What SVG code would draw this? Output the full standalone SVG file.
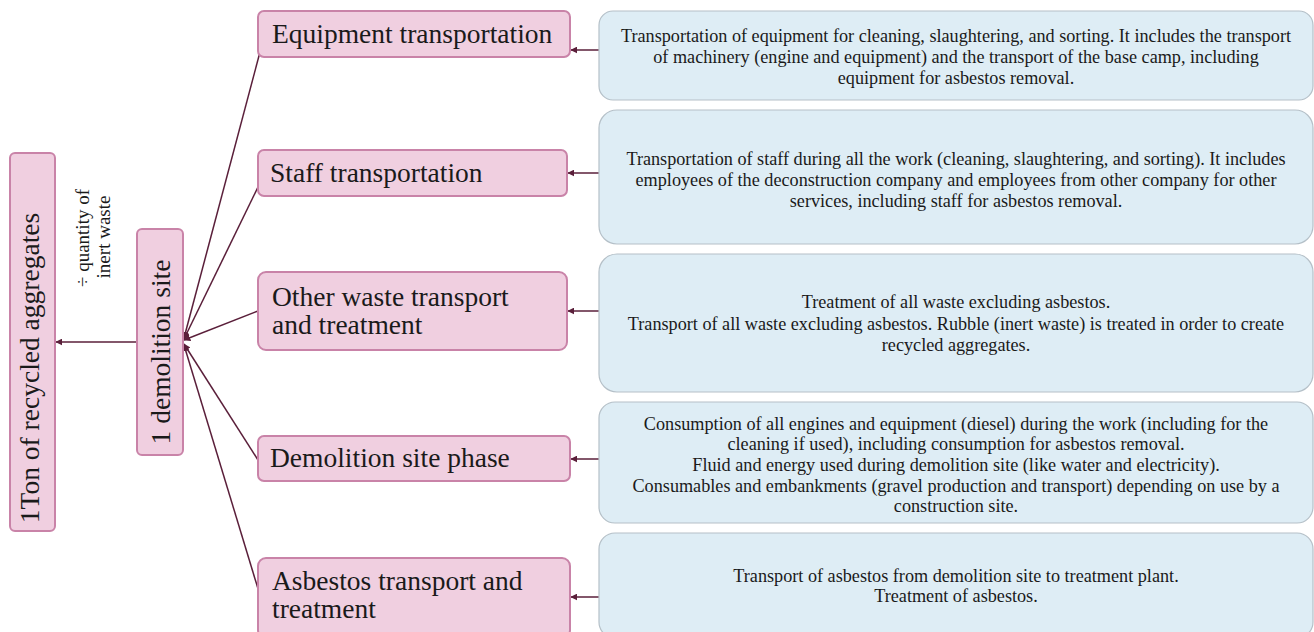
<svg xmlns="http://www.w3.org/2000/svg" width="1314" height="632" viewBox="0 0 1314 632">
<style>
.pk{fill:#f0cfe0;stroke:#c983a8;stroke-width:2}
.bl{fill:#deedf5;stroke:#b5c0c8;stroke-width:1.2}
.pt{font-family:"Liberation Serif","DejaVu Serif",serif;font-size:27.5px;fill:#1a1a1a}
.bt{font-family:"Liberation Serif","DejaVu Serif",serif;font-size:18.2px;fill:#1a1a1a;text-anchor:middle}
.ln{stroke:#5a1f3a;stroke-width:1.5;fill:none}
.lb{font-family:"Liberation Serif","DejaVu Serif",serif;font-size:19px;fill:#1a1a1a;text-anchor:middle}
</style>
<defs>
<marker id="ah" viewBox="0 0 10 10" refX="9" refY="5" markerWidth="7" markerHeight="7" orient="auto" markerUnits="userSpaceOnUse">
<path d="M0,0 L10,5 L0,10 z" fill="#5a1f3a"/>
</marker>
</defs>
<rect width="1314" height="632" fill="#ffffff"/>
<g id="connectors">
<line class="ln" x1="137" y1="342" x2="56" y2="342" marker-end="url(#ah)"/>
<line class="ln" x1="260" y1="52" x2="184" y2="338" marker-end="url(#ah)"/>
<line class="ln" x1="259" y1="185" x2="184" y2="339" marker-end="url(#ah)"/>
<line class="ln" x1="258" y1="311" x2="184" y2="340" marker-end="url(#ah)"/>
<line class="ln" x1="258" y1="460" x2="184" y2="344" marker-end="url(#ah)"/>
<line class="ln" x1="259" y1="592" x2="184" y2="345" marker-end="url(#ah)"/>
<line class="ln" x1="599" y1="50" x2="571" y2="50" marker-end="url(#ah)"/>
<line class="ln" x1="599" y1="173" x2="568" y2="173" marker-end="url(#ah)"/>
<line class="ln" x1="599" y1="311" x2="568" y2="311" marker-end="url(#ah)"/>
<line class="ln" x1="599" y1="459" x2="571" y2="459" marker-end="url(#ah)"/>
<line class="ln" x1="599" y1="597" x2="571" y2="597" marker-end="url(#ah)"/>
</g>
<g id="label-divide">
<text class="lb" transform="translate(89,238) rotate(-90)">÷ quantity of</text>
<text class="lb" transform="translate(110,237) rotate(-90)">inert waste</text>
</g>
<g id="node-ton">
<rect class="pk" x="10" y="153" width="45" height="378" rx="5"/>
<text class="pt" text-anchor="middle" transform="translate(39,368) rotate(-90)">1Ton of recycled aggregates</text>
</g>
<g id="node-site">
<rect class="pk" x="137" y="229" width="46" height="226" rx="5"/>
<text class="pt" text-anchor="middle" transform="translate(170,352) rotate(-90)">1 demolition site</text>
</g>
<g id="node-equip">
<rect class="pk" x="258" y="11" width="312" height="46" rx="6"/>
<text class="pt" x="272" y="43">Equipment transportation</text>
</g>
<g id="node-staff">
<rect class="pk" x="258" y="150" width="309" height="46" rx="6"/>
<text class="pt" x="270" y="182">Staff transportation</text>
</g>
<g id="node-waste">
<rect class="pk" x="258" y="272" width="309" height="78" rx="8"/>
<text class="pt" x="272" y="306">Other waste transport</text>
<text class="pt" x="272" y="334">and treatment</text>
</g>
<g id="node-phase">
<rect class="pk" x="258" y="436" width="312" height="45" rx="6"/>
<text class="pt" x="270" y="467">Demolition site phase</text>
</g>
<g id="node-asbestos">
<rect class="pk" x="258" y="558" width="312" height="80" rx="8"/>
<text class="pt" x="272" y="590">Asbestos transport and</text>
<text class="pt" x="272" y="618">treatment</text>
</g>
<g id="desc-equip">
<rect class="bl" x="599" y="11" width="714" height="89" rx="14"/>
<text class="bt" x="956" y="42">Transportation of equipment for cleaning, slaughtering, and sorting. It includes the transport</text>
<text class="bt" x="956" y="63">of machinery  (engine and equipment) and the transport of the base camp, including</text>
<text class="bt" x="956" y="84">equipment for asbestos removal.</text>
</g>
<g id="desc-staff">
<rect class="bl" x="599" y="110" width="714" height="134" rx="18"/>
<text class="bt" x="956" y="165">Transportation of staff during all the work (cleaning, slaughtering, and sorting). It includes</text>
<text class="bt" x="956" y="186">employees of the deconstruction company and employees from other company for other</text>
<text class="bt" x="956" y="207">services, including staff for asbestos removal.</text>
</g>
<g id="desc-waste">
<rect class="bl" x="599" y="254" width="714" height="138" rx="18"/>
<text class="bt" x="956" y="308">Treatment of all waste excluding asbestos.</text>
<text class="bt" x="956" y="330">Transport of all waste excluding asbestos. Rubble (inert waste) is treated in order to create</text>
<text class="bt" x="956" y="351">recycled aggregates.</text>
</g>
<g id="desc-phase">
<rect class="bl" x="599" y="402" width="714" height="121" rx="16"/>
<text class="bt" x="956" y="430">Consumption of all engines and equipment (diesel) during the work (including for the</text>
<text class="bt" x="956" y="450">cleaning if used), including consumption for asbestos removal.</text>
<text class="bt" x="956" y="471">Fluid and energy used during demolition site (like water and electricity).</text>
<text class="bt" x="956" y="492">Consumables and embankments (gravel production and transport) depending on use by a</text>
<text class="bt" x="956" y="512">construction site.</text>
</g>
<g id="desc-asbestos">
<rect class="bl" x="599" y="533" width="714" height="105" rx="16"/>
<text class="bt" x="956" y="582">Transport of asbestos from demolition site to treatment plant.</text>
<text class="bt" x="956" y="602">Treatment of asbestos.</text>
</g>
</svg>
